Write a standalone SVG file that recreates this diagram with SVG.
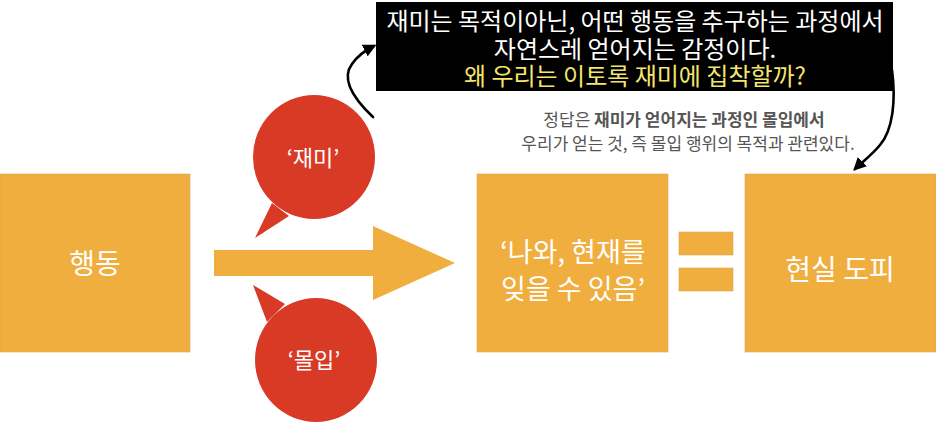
<svg xmlns="http://www.w3.org/2000/svg" width="936" height="424" viewBox="0 0 936 424">
<style>
text{font-family:"Noto Sans CJK KR","Noto Sans",sans-serif;text-anchor:middle}
.box{fill:#F0AE3F;stroke:#D9A552;stroke-width:0.6}
.wt{fill:#ffffff}
.bub{fill:#D93A26}
.cur{fill:none;stroke:#000;stroke-width:2.6;stroke-linecap:round}
.gr{fill:#555555;font-size:17px}
</style>
<defs>
<marker id="ah" viewBox="0 0 10 10" refX="8" refY="5" markerWidth="5" markerHeight="5" orient="auto" markerUnits="strokeWidth">
<path d="M0,0 L10,5 L0,10 z" fill="#000"/>
</marker>
</defs>
<rect width="936" height="424" fill="#fff"/>
<g id="note">
<rect x="376" y="2" width="517" height="89" fill="#000"/>
<text x="635" y="30" class="wt" font-size="24">재미는 목적이아닌, 어떤 행동을 추구하는 과정에서</text>
<text x="635" y="58" class="wt" font-size="24">자연스레 얻어지는 감정이다.</text>
<text x="635" y="85" fill="#F5E56B" font-size="24">왜 우리는 이토록 재미에 집착할까?</text>
</g>
<g id="answer">
<text x="684" y="126" class="gr">정답은 <tspan font-weight="bold">재미가 얻어지는 과정인 몰입에서</tspan></text>
<text x="688" y="150" class="gr">우리가 얻는 것, 즉 몰입 행위의 목적과 관련있다.</text>
</g>
<g id="action">
<rect x="0" y="174" width="190" height="178" class="box"/>
<text x="95" y="274" class="wt" font-size="28">행동</text>
</g>
<g id="arrow-main">
<path d="M214,250 H373 V226 L455,263 L373,300 V276 H214 z" fill="#F0AE3F"/>
</g>
<g id="bubble-fun">
<path d="M272,203 L255,238 L289,216 z" class="bub"/>
<ellipse cx="314" cy="157" rx="61" ry="62" class="bub"/>
<text x="313" y="166" class="wt" font-size="22">‘재미’</text>
</g>
<g id="bubble-flow">
<path d="M267,322 L253,285 L285,304 z" class="bub"/>
<ellipse cx="316" cy="360" rx="61" ry="62" class="bub"/>
<text x="314" y="368" class="wt" font-size="22">‘몰입’</text>
</g>
<g id="forget">
<rect x="477" y="174" width="191" height="178" class="box"/>
<text x="573" y="262" class="wt" font-size="27">‘나와, 현재를</text>
<text x="573" y="299" class="wt" font-size="27">잊을 수 있음’</text>
</g>
<g id="equals">
<rect x="679" y="232" width="54" height="23" class="box"/>
<rect x="679" y="268" width="54" height="23" class="box"/>
</g>
<g id="escape">
<rect x="745" y="174" width="191" height="178" class="box"/>
<text x="840" y="280" class="wt" font-size="28">현실 도피</text>
</g>
<g id="connectors">
<path d="M373,117 C355,100 340,80 352,64 C358,55 366,50 374,46" class="cur" marker-end="url(#ah)"/>
<path d="M892,70 C896,100 893,130 880,145 C872,155 862,162 855,169" class="cur" marker-end="url(#ah)"/>
</g>
</svg>
